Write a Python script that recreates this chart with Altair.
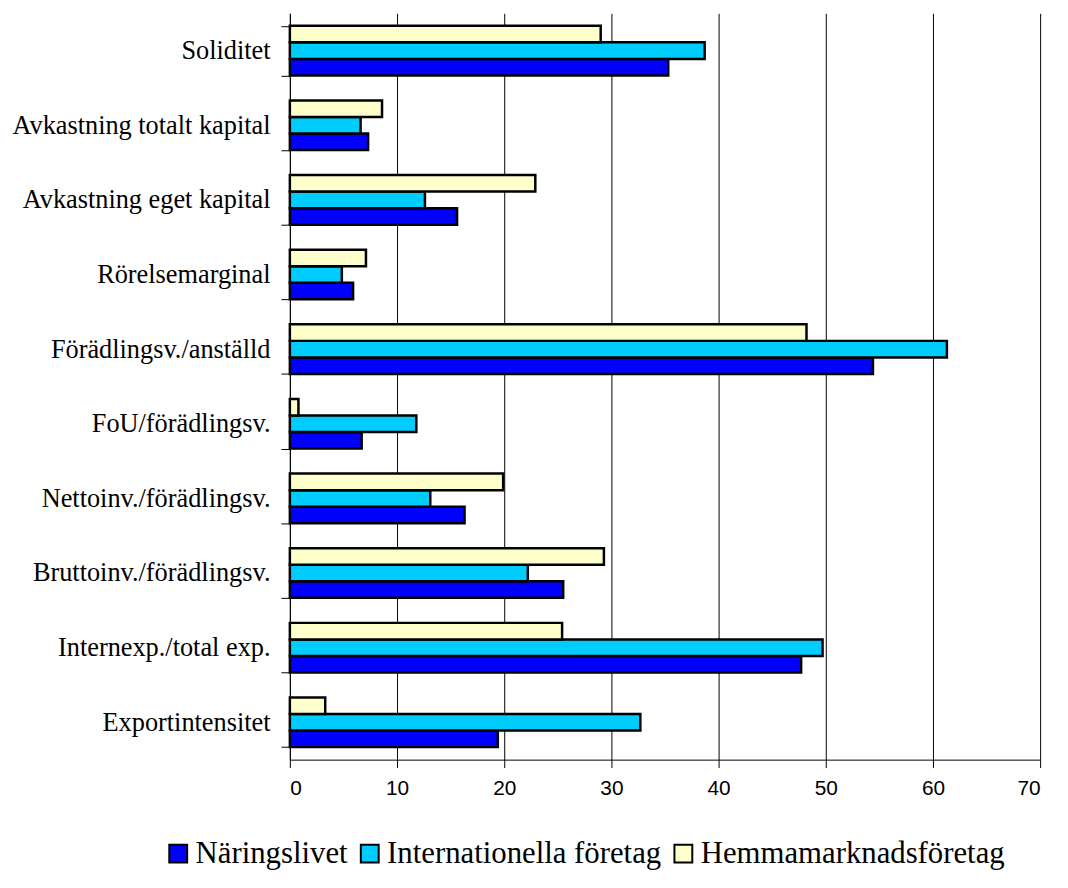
import altair as alt
import pandas as pd

categories = [
    "Soliditet",
    "Avkastning totalt kapital",
    "Avkastning eget kapital",
    "Rörelsemarginal",
    "Förädlingsv./anställd",
    "FoU/förädlingsv.",
    "Nettoinv./förädlingsv.",
    "Bruttoinv./förädlingsv.",
    "Internexp./total exp.",
    "Exportintensitet",
]
series = ["Näringslivet", "Internationella företag", "Hemmamarknadsföretag"]
naringslivet = [35.3, 7.3, 15.6, 5.9, 54.4, 6.7, 16.3, 25.5, 47.7, 19.4]
internationella = [38.7, 6.6, 12.6, 4.85, 61.3, 11.8, 13.1, 22.2, 49.7, 32.7]
hemmamarknad = [29.0, 8.6, 22.9, 7.1, 48.2, 0.8, 19.9, 29.3, 25.4, 3.3]
colors = ["#0000FF", "#00CCFF", "#FFFFCC"]
x_ticks = [0, 10, 20, 30, 40, 50, 60, 70]

rows = []
for name, vals in zip(series, [naringslivet, internationella, hemmamarknad]):
    for c, v in zip(categories, vals):
        rows.append({"Kategori": c, "Serie": name, "Värde": v})
df = pd.DataFrame(rows)

chart = alt.Chart(df).mark_bar(stroke="black", strokeWidth=2.5).encode(
    y=alt.Y(
        "Kategori:N",
        sort=categories,
        title=None,
        scale=alt.Scale(paddingInner=0.335, paddingOuter=0.1675),
        axis=alt.Axis(
            tickBand="extent",
            tickSize=9,
            tickColor="black",
            domainColor="black",
            labelFont="Liberation Serif",
            labelFontSize=26.5,
            labelColor="black",
            labelPadding=11,
            labelLimit=400,
        ),
    ),
    yOffset=alt.YOffset(
        "Serie:N",
        sort=list(reversed(series)),
        scale=alt.Scale(paddingInner=0, paddingOuter=0),
    ),
    x=alt.X(
        "Värde:Q",
        title=None,
        scale=alt.Scale(domain=[0, 70], nice=False),
        axis=alt.Axis(
            values=x_ticks,
            grid=True,
            gridColor="black",
            gridWidth=1,
            tickSize=8,
            tickColor="black",
            domainColor="black",
            labelFont="Liberation Sans",
            labelFontSize=21,
            labelColor="black",
            labelPadding=10,
        ),
    ),
    color=alt.Color(
        "Serie:N",
        sort=series,
        scale=alt.Scale(domain=series, range=colors),
        legend=alt.Legend(
            title=None,
            orient="none",
            direction="horizontal",
            legendX=-128,
            legendY=831,
            symbolType="square",
            symbolSize=324,
            symbolStrokeColor="black",
            symbolStrokeWidth=2,
            symbolOpacity=1,
            labelFont="Liberation Serif",
            labelFontSize=31,
            labelColor="black",
            labelOffset=2,
            columnPadding=6,
            labelLimit=600,
        ),
    ),
).properties(
    width=756,
    height=752,
    autosize=alt.AutoSizeParams(type="none"),
    padding={"left": 284, "top": 2, "right": 20, "bottom": 126},
).configure_view(stroke=None).configure_axis(gridOpacity=1).configure_legend(
    labelFont="Liberation Serif"
)

chart.save("out.html", embed_options={"renderer": "svg", "actions": False})
